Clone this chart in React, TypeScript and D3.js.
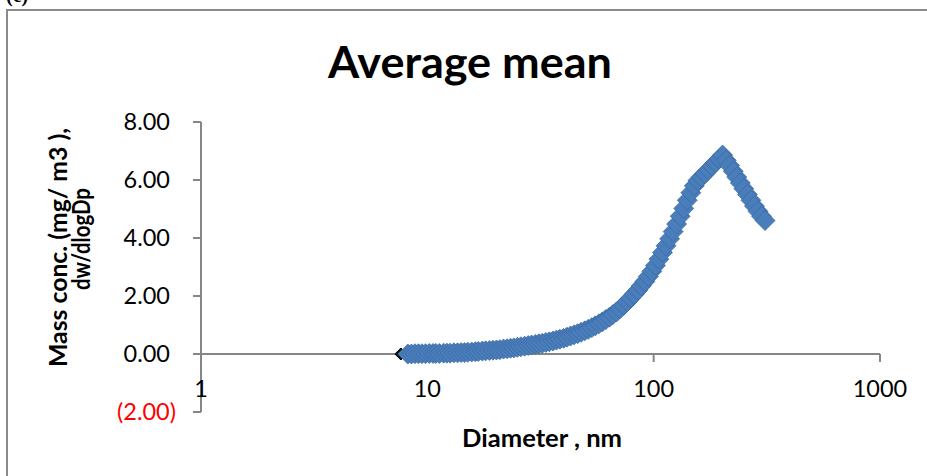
import React from 'react';
import * as d3 from 'd3';

// Particle diameter (nm), SMPS channel midpoints
const diameters = [
  7.64, 8.2, 8.51, 8.82, 9.14, 9.47, 9.82, 10.2, 10.6, 10.9,
  11.3, 11.8, 12.2, 12.6, 13.1, 13.6, 14.1, 14.6, 15.1, 15.7,
  16.3, 16.8, 17.5, 18.1, 18.8, 19.5, 20.2, 20.9, 21.7, 22.5,
  23.3, 24.1, 25.0, 25.9, 26.9, 27.9, 28.9, 30.0, 31.1, 32.2,
  33.4, 34.6, 35.9, 37.2, 38.5, 40.0, 41.4, 42.9, 44.5, 46.1,
  47.8, 49.6, 51.4, 53.3, 55.2, 57.3, 59.4, 61.5, 63.8, 66.1,
  68.5, 71.0, 73.7, 76.4, 79.1, 82.0, 85.1, 88.2, 91.4, 94.7,
  98.2, 101.8, 105.5, 109.4, 113.4, 117.6, 121.9, 126.3, 131.0, 135.8,
  140.7, 145.9, 151.2, 156.8, 162.5, 168.5, 174.7, 181.1, 187.7, 194.6,
  201.7, 209.1, 216.7, 224.7, 232.9, 241.4, 250.3, 259.5, 269.0, 278.8,
  289.0, 299.6, 310.6,
];

// Mass concentration dW/dlogDp (mg/m3), one per diameter
const massConc = [
  0.0, 0.0, 0.0, 0.01, 0.01, 0.01, 0.01, 0.02, 0.02, 0.02,
  0.02, 0.03, 0.03, 0.03, 0.04, 0.04, 0.05, 0.05, 0.06, 0.07,
  0.08, 0.09, 0.1, 0.11, 0.12, 0.13, 0.14, 0.15, 0.17, 0.18,
  0.2, 0.21, 0.23, 0.25, 0.27, 0.29, 0.31, 0.33, 0.35, 0.37,
  0.4, 0.42, 0.45, 0.48, 0.51, 0.54, 0.58, 0.62, 0.66, 0.7,
  0.75, 0.8, 0.85, 0.91, 0.97, 1.04, 1.11, 1.19, 1.27, 1.36,
  1.45, 1.56, 1.68, 1.8, 1.93, 2.06, 2.2, 2.35, 2.5, 2.67,
  2.85, 3.05, 3.27, 3.5, 3.73, 3.97, 4.22, 4.48, 4.75, 5.02,
  5.3, 5.56, 5.8, 5.98, 6.1, 6.22, 6.35, 6.48, 6.6, 6.73,
  6.86, 6.68, 6.5, 6.3, 6.1, 5.9, 5.7, 5.5, 5.3, 5.1,
  4.92, 4.75, 4.6,
];

const yTicks = [-2, 0, 2, 4, 6, 8];
const xTicks = [1, 10, 100, 1000];

const FONT = "Lato, 'Open Sans', sans-serif";
const AXIS = '#868686';
const BLUE = '#4a7ebb';

const diamond = (r: number) => `M0,${-r}L${r},0L0,${r}L${-r},0Z`;

export default function App() {
  const W = 927;
  const H = 476;
  const x = d3.scaleLog().domain([1, 1000]).range([201, 880]);
  const y = d3.scaleLinear().domain([-2, 8]).range([412, 122]);
  const y0 = y(0);

  const fmt = (v: number) => (v < 0 ? `(${Math.abs(v).toFixed(2)})` : v.toFixed(2));

  return (
    <svg
      width={W}
      height={H}
      viewBox={`0 0 ${W} ${H}`}
      style={{ position: 'absolute', left: 0, top: 0, background: '#fff' }}
    >
      <rect x={0} y={0} width={W} height={H} fill="#fff" />
      <text x={6} y={2} fontFamily="'Liberation Serif', serif" fontSize={20} fontWeight="bold" fill="#000">
        (c)
      </text>
      <rect x={7} y={10} width={960} height={520} fill="none" stroke="#8a8a8a" strokeWidth={2} />

      <text
        x={470}
        y={78}
        textAnchor="middle"
        fontFamily={FONT}
        fontWeight="bold"
        fontSize={43}
        textLength={284}
        lengthAdjust="spacingAndGlyphs"
        fill="#000"
      >
        Average mean
      </text>

      {/* y axis */}
      <line x1={x(1)} x2={x(1)} y1={y(8)} y2={y(-2)} stroke={AXIS} strokeWidth={2} />
      {yTicks.map((t) => (
        <g key={`yt${t}`}>
          <line x1={x(1) - 8} x2={x(1)} y1={y(t)} y2={y(t)} stroke={AXIS} strokeWidth={2} />
          <text
            x={t < 0 ? 176 : 170}
            y={y(t) + 8}
            textAnchor="end"
            fontFamily={FONT}
            fontSize={23.5}
            fill={t < 0 ? '#ff0000' : '#000'}
          >
            {fmt(t)}
          </text>
        </g>
      ))}

      {/* x axis at zero */}
      <line x1={x(1)} x2={x(1000)} y1={y0} y2={y0} stroke={AXIS} strokeWidth={2} />
      {xTicks.map((t) => (
        <g key={`xt${t}`}>
          {t > 1 && <line x1={x(t)} x2={x(t)} y1={y0} y2={y0 + 8} stroke={AXIS} strokeWidth={2} />}
          <text x={x(t)} y={397} textAnchor="middle" fontFamily={FONT} fontSize={23.5} fill="#000">
            {t}
          </text>
        </g>
      ))}

      <text
        x={542}
        y={447}
        textAnchor="middle"
        fontFamily={FONT}
        fontWeight="bold"
        fontSize={25}
        textLength={160}
        lengthAdjust="spacingAndGlyphs"
        fill="#000"
      >
        Diameter , nm
      </text>

      <g fontFamily={FONT} fontWeight="bold" fontSize={25} fill="#000">
        <text
          transform="translate(67,247.5) rotate(-90)"
          textAnchor="middle"
          textLength={239}
          lengthAdjust="spacingAndGlyphs"
        >
          Mass conc. (mg/ m3 ),
        </text>
        <text
          transform="translate(90,239) rotate(-90)"
          textAnchor="middle"
          textLength={102}
          lengthAdjust="spacingAndGlyphs"
        >
          dw/dlogDp
        </text>
      </g>

      {/* markers */}
      <g>
        {diameters.map((d, i) => (
          <path
            key={`m${i}`}
            d={diamond(i === 0 ? 6 : 10)}
            transform={`translate(${x(d)},${y(massConc[i])})`}
            fill={i === 0 ? '#111' : BLUE}
            stroke={i === 0 ? '#000' : '#3a67a0'}
            strokeWidth={i === 0 ? 1 : 0.7}
          />
        ))}
      </g>
    </svg>
  );
}
